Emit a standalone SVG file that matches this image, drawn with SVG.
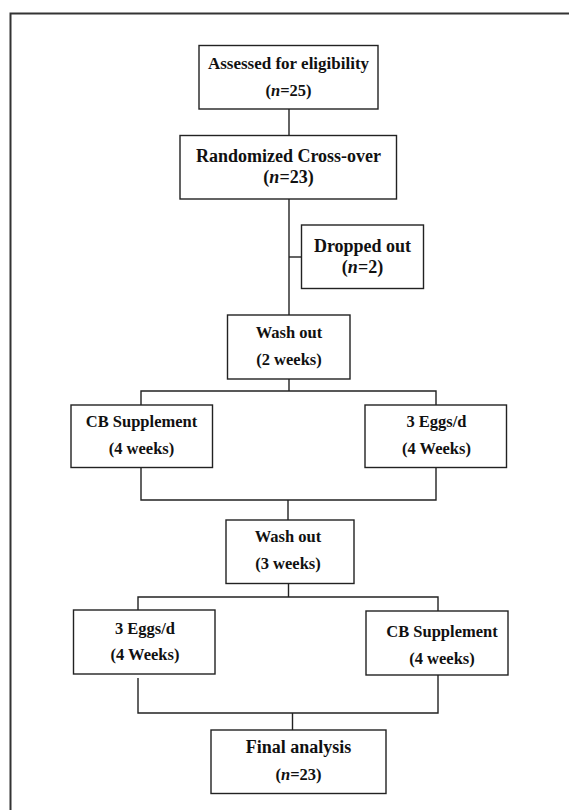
<svg xmlns="http://www.w3.org/2000/svg" width="569" height="810" viewBox="0 0 569 810">
<style>
.box{fill:#fff;stroke:#222;stroke-width:1.4}
.ln{fill:none;stroke:#222;stroke-width:1.4}
.t{font-family:"Liberation Serif","Times New Roman",serif;font-weight:bold;font-size:16.5px;fill:#111;text-anchor:middle}
.l{font-size:18px}
.i{font-style:italic}
</style>
<rect width="569" height="810" fill="#fff"/>
<path d="M10.5 812 V13.5 H572" fill="none" stroke="#333" stroke-width="2"/>
<g id="connectors" class="ln">
<path d="M289 109 V135"/>
<path d="M289 199 V315"/>
<path d="M289 257 H301"/>
<path d="M289 379 V391 M141 405 V391 H436 V405"/>
<path d="M141 467 V500 H436 V467 M288 500 V520"/>
<path d="M288.5 584 V597 M138 610 V597 H438 V611"/>
<path d="M138 678 V713 H438 V675 M292.5 713 V730"/>
</g>
<g id="n1"><rect class="box" x="199" y="45.5" width="179" height="63.5"/>
<text class="t l" x="288.5" y="69" style="font-size:17px">Assessed for eligibility</text>
<text class="t" x="288.5" y="96">(<tspan class="i">n</tspan>=25)</text></g>
<g id="n2"><rect class="box" x="180" y="135.5" width="216.5" height="63.5"/>
<text class="t l" x="288.5" y="162">Randomized Cross-over</text>
<text class="t l" x="288.5" y="183">(<tspan class="i">n</tspan>=23)</text></g>
<g id="n3"><rect class="box" x="301.5" y="225" width="122" height="63.5"/>
<text class="t l" x="362.5" y="252">Dropped out</text>
<text class="t l" x="362.5" y="273">(<tspan class="i">n</tspan>=2)</text></g>
<g id="n4"><rect class="box" x="227.5" y="315" width="122.5" height="64"/>
<text class="t" x="289" y="337.5">Wash out</text>
<text class="t" x="289" y="365">(2 weeks)</text></g>
<g id="n5"><rect class="box" x="71" y="405" width="141.5" height="62.5"/>
<text class="t" x="141.5" y="427">CB Supplement</text>
<text class="t" x="141.5" y="454">(4 weeks)</text></g>
<g id="n6"><rect class="box" x="365" y="405" width="141.5" height="62.5"/>
<text class="t" x="436.5" y="427">3 Eggs/d</text>
<text class="t" x="436.5" y="454">(4 Weeks)</text></g>
<g id="n7"><rect class="box" x="226" y="520" width="128" height="63.5"/>
<text class="t" x="288" y="542">Wash out</text>
<text class="t" x="288" y="568.5">(3 weeks)</text></g>
<g id="n8"><rect class="box" x="73.5" y="610" width="141.5" height="64"/>
<text class="t" x="145" y="633.5">3 Eggs/d</text>
<text class="t" x="145" y="660">(4 Weeks)</text></g>
<g id="n9"><rect class="box" x="366" y="611" width="142" height="64"/>
<text class="t" x="442" y="637">CB Supplement</text>
<text class="t" x="442" y="663.5">(4 weeks)</text></g>
<g id="n10"><rect class="box" x="211" y="730" width="175" height="63.5"/>
<text class="t l" x="298.5" y="753">Final analysis</text>
<text class="t" x="298.5" y="780">(<tspan class="i">n</tspan>=23)</text></g>
</svg>
